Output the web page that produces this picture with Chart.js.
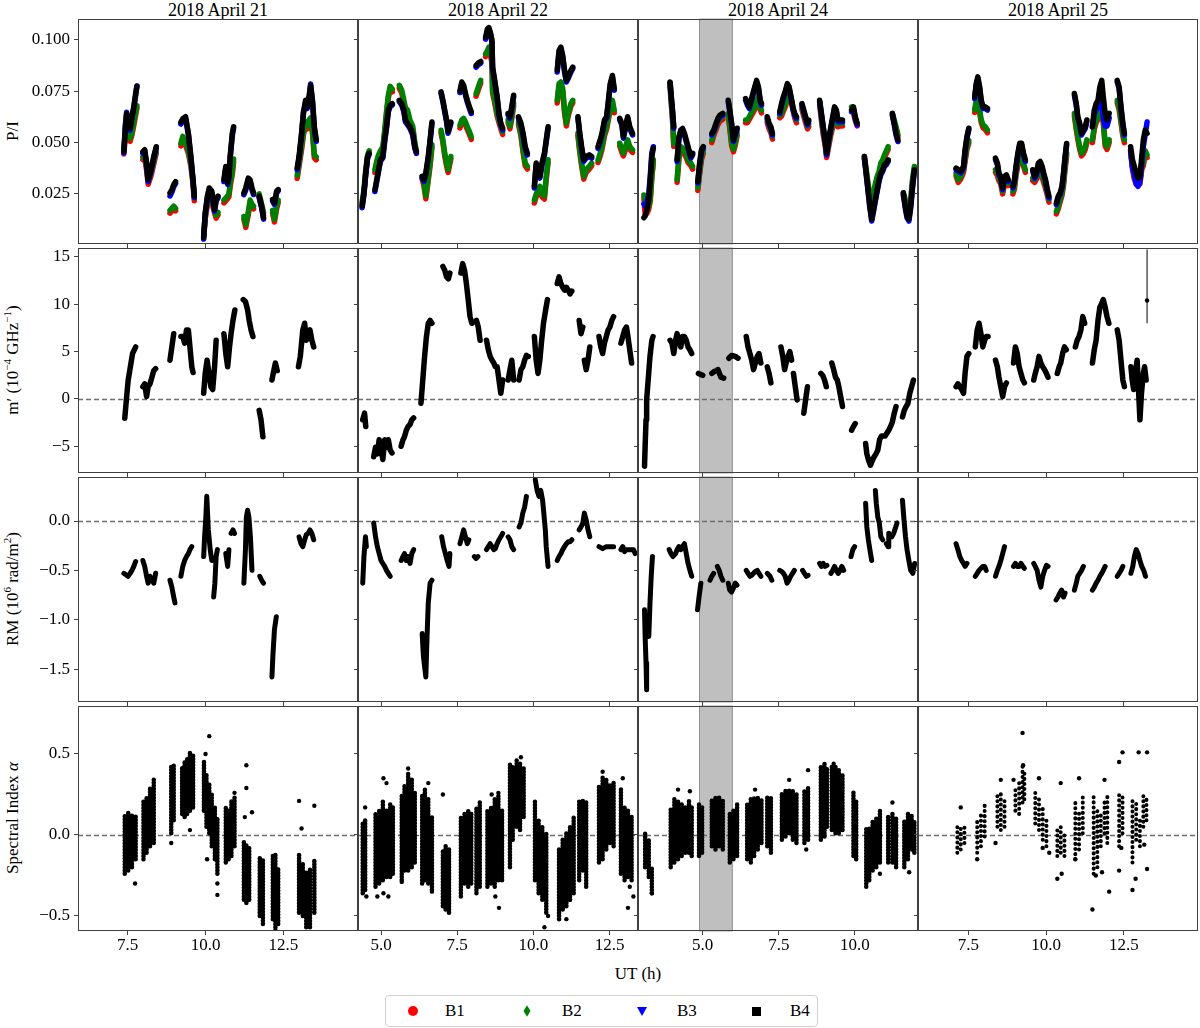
<!DOCTYPE html>
<html>
<head>
<meta charset="utf-8">
<script src="https://cdn.jsdelivr.net/npm/chart.js@4.4.1/dist/chart.umd.min.js"></script>
<style>
  body { margin: 0; background: #fff; }
  #fig { position: relative; width: 1200px; height: 1028px; font-family: 'Liberation Serif', serif; color: #000; overflow: hidden; }
  #fig canvas { position: absolute; }
  .txt { position: absolute; white-space: nowrap; font-size: 17px; line-height: 20px; }
  .title { font-size: 18px; transform: translateX(-50%); }
  .ylab { transform: translate(-50%, -50%) rotate(-90deg); }
  .ylab sup { font-size: 11px; line-height: 0; }
  #legend { position: absolute; left: 385px; top: 995px; width: 431px; height: 30px; border: 1px solid #d0d0d0; border-radius: 4px; background: #fff; }
  .mk { position: absolute; top: 15px; }
  .lt { position: absolute; top: 5px; font-size: 17px; line-height: 20px; }
</style>
</head>
<body>
<div id="fig">
  <div class="txt title" style="left:218px; top:0px;">2018 April 21</div>
  <div class="txt title" style="left:498px; top:0px;">2018 April 22</div>
  <div class="txt title" style="left:778px; top:0px;">2018 April 24</div>
  <div class="txt title" style="left:1058px; top:0px;">2018 April 25</div>

  <div class="txt ylab" style="left:13px; top:131px;">P/I</div>
  <div class="txt ylab" style="left:13px; top:360px;">m′ (10<sup>−4</sup> GHz<sup>−1</sup>)</div>
  <div class="txt ylab" style="left:13px; top:589px;">RM (10<sup>6</sup> rad/m<sup>2</sup>)</div>
  <div class="txt ylab" style="left:13px; top:818px;">Spectral Index <i>α</i></div>

  <div class="txt" style="left:638px; top:964px; transform:translateX(-50%);">UT (h)</div>

  <div id="legend">
    <div class="mk" style="left:22px; margin-top:-5px; width:10px; height:10px; border-radius:50%; background:#ff0000;"></div>
    <div class="lt" style="left:59px;">B1</div>
    <div class="mk" style="left:137px; margin-top:-4px; width:8px; height:8px; background:#008000; transform:scaleX(0.62) rotate(45deg);"></div>
    <div class="lt" style="left:176px;">B2</div>
    <div class="mk" style="left:251px; margin-top:-4px; width:0; height:0; border-left:5px solid transparent; border-right:5px solid transparent; border-top:9px solid #0000ff;"></div>
    <div class="lt" style="left:291px;">B3</div>
    <div class="mk" style="left:366px; margin-top:-4px; width:9px; height:9px; background:#000;"></div>
    <div class="lt" style="left:404px;">B4</div>
  </div>
</div>

<script>
// ---------- axes ----------
const colLeft = [78, 358, 638, 918];
const rowTop = [19, 248, 477, 706];
const panelW = 280, panelH = 225;

const xMin = [5.91, 4.245, 2.876, 5.874];
const xMax = [14.89, 13.43, 12.07, 14.89];
const xTicks = [[7.5, 10, 12.5], [5, 7.5, 10, 12.5], [5, 7.5, 10], [7.5, 10, 12.5]];

const yMin = [0.0006, -7.82, -1.834, -0.593];
const yMax = [0.1102, 15.95, 0.446, 0.796];
const yTicks = [[0.025, 0.05, 0.075, 0.1], [-5, 0, 5, 10, 15], [-1.5, -1, -0.5, 0], [-0.5, 0, 0.5]];
const yDigits = [3, 0, 1, 1];

// shaded interval on April 24
const gapBand = [4.88, 5.99];

// ---------- P/I (row 1), null = gap between scans ----------
const pi21_x = [7.38,7.43,7.47,7.52,7.58,7.64,7.70,7.76,7.80, null, 7.99,8.05,8.11,8.16,8.25,8.34,8.42, null, 8.86,8.92,8.98,9.04, null, 9.21,9.27,9.36,9.45,9.53,9.60,9.64, null, 9.94,9.99,10.06,10.12,10.20,10.29,10.34,10.40, null, 10.59,10.65,10.71,10.75,10.79,10.86,10.90, null, 11.23,11.29,11.37,11.43,11.49,11.54, null, 11.72,11.80,11.86, null, 12.15,12.21,12.28,12.33, null, 12.94,13.00,13.08,13.14,13.21,13.26,13.32,13.37,13.43,13.49,13.55];
const pi21_b4 = [0.0456,0.0577,0.0642,0.0594,0.0569,0.0626,0.0674,0.0739,0.0774, null, 0.0456,0.0465,0.0400,0.0319,0.0368,0.0432,0.0480, null, 0.0255,0.0270,0.0295,0.0310, null, 0.0600,0.0616,0.0626,0.0545,0.0432,0.0319,0.0239, null, 0.0037,0.0158,0.0239,0.0279,0.0263,0.0174,0.0223,0.0239, null, 0.0320,0.0384,0.0303,0.0335,0.0432,0.0545,0.0577, null, 0.0255,0.0279,0.0327,0.0319,0.0279,0.0255, null, 0.0239,0.0190,0.0134, null, 0.0223,0.0206,0.0263,0.0271, null, 0.0376,0.0432,0.0545,0.0642,0.0706,0.0674,0.0723,0.0779,0.0706,0.0577,0.0513];
const pi21_b3 = [0.0450,0.0585,0.0648,0.0586,0.0560,0.0618,0.0668,0.0732,0.0776, null, 0.0448,0.0458,0.0392,0.0310,0.0360,0.0425,0.0474, null, 0.0240,0.0258,0.0285,0.0300, null, 0.0590,0.0608,0.0618,0.0538,0.0425,0.0312,0.0232, null, 0.0030,0.0150,0.0231,0.0270,0.0255,0.0166,0.0215,0.0231, null, 0.0310,0.0376,0.0296,0.0327,0.0424,0.0536,0.0570, null, 0.0246,0.0268,0.0318,0.0310,0.0270,0.0247, null, 0.0232,0.0182,0.0127, null, 0.0216,0.0198,0.0255,0.0264, null, 0.0368,0.0425,0.0538,0.0650,0.0698,0.0666,0.0716,0.0785,0.0698,0.0570,0.0506];
const pi21_b2 = [0.0460,0.0550,0.0580,0.0530,0.0520,0.0550,0.0600,0.0650,0.0680, null, 0.0430,0.0440,0.0380,0.0310,0.0350,0.0410,0.0460, null, 0.0170,0.0180,0.0190,0.0180, null, 0.0497,0.0530,0.0500,0.0460,0.0400,0.0310,0.0230, null, 0.0050,0.0140,0.0210,0.0250,0.0223,0.0170,0.0145,0.0160, null, 0.0220,0.0230,0.0240,0.0250,0.0300,0.0360,0.0420, null, 0.0140,0.0100,0.0160,0.0220,0.0200,0.0190, null, 0.0250,0.0200,0.0160, null, 0.0170,0.0126,0.0190,0.0220, null, 0.0340,0.0400,0.0480,0.0550,0.0600,0.0580,0.0610,0.0620,0.0560,0.0440,0.0430];
const pi21_b1 = [0.0445,0.0536,0.0566,0.0517,0.0506,0.0537,0.0585,0.0636,0.0667, null, 0.0417,0.0426,0.0366,0.0297,0.0337,0.0396,0.0447, null, 0.0156,0.0167,0.0177,0.0168, null, 0.0484,0.0516,0.0487,0.0447,0.0386,0.0297,0.0217, null, 0.0040,0.0127,0.0197,0.0237,0.0210,0.0157,0.0132,0.0148, null, 0.0206,0.0217,0.0227,0.0236,0.0287,0.0347,0.0406, null, 0.0127,0.0087,0.0147,0.0207,0.0187,0.0177, null, 0.0237,0.0187,0.0147, null, 0.0157,0.0113,0.0177,0.0207, null, 0.0326,0.0386,0.0466,0.0537,0.0586,0.0566,0.0596,0.0606,0.0546,0.0426,0.0416];

const pi22_x = [4.38,4.44,4.50,4.56,4.61, null, 4.80,4.86,4.92,4.98,5.06,5.12,5.18,5.24,5.30,5.37, null, 5.60,5.68,5.75,5.80,5.87,5.95,6.04,6.11,6.16, null, 6.35,6.41,6.47,6.55,6.61,6.67, null, 6.97,7.03,7.09,7.15,7.20,7.29, null, 7.59,7.65,7.71,7.77,7.83,7.90,7.96, null, 8.12,8.19,8.27, null, 8.43,8.49,8.54,8.60,8.64,8.66,8.73,8.81,8.87,8.93,8.99, null, 9.17,9.23,9.29,9.35, null, 9.51,9.59,9.66,9.73,9.80, null, 10.03,10.09,10.16,10.21,10.28,10.36,10.42,10.48, null, 10.78,10.84,10.90,10.96,11.02,11.08,11.14,11.23,11.29, null, 11.46,11.52,11.58,11.65,11.73,11.83,11.91, null, 12.12,12.19,12.25,12.33,12.40,12.46,12.52,12.59,12.65, null, 12.83,12.90,12.95,13.02,13.09,13.16,13.25];
const pi22_b4 = [0.0190,0.0255,0.0352,0.0432,0.0448, null, 0.0270,0.0319,0.0368,0.0416,0.0432,0.0513,0.0577,0.0658,0.0682,0.0690, null, 0.0706,0.0690,0.0658,0.0610,0.0594,0.0577,0.0545,0.0480,0.0456, null, 0.0335,0.0319,0.0352,0.0432,0.0513,0.0600, null, 0.0747,0.0706,0.0658,0.0610,0.0553,0.0600, null, 0.0752,0.0795,0.0779,0.0739,0.0706,0.0674,0.0650, null, 0.0876,0.0887,0.0895, null, 0.1013,0.1053,0.1060,0.1029,0.0997,0.0868,0.0803,0.0723,0.0642,0.0594,0.0570, null, 0.0642,0.0626,0.0674,0.0731, null, 0.0626,0.0594,0.0545,0.0480,0.0448, null, 0.0287,0.0400,0.0368,0.0335,0.0400,0.0448,0.0513,0.0577, null, 0.0852,0.0948,0.0965,0.0924,0.0852,0.0803,0.0820,0.0852,0.0868, null, 0.0626,0.0545,0.0480,0.0416,0.0432,0.0440,0.0432, null, 0.0480,0.0513,0.0545,0.0610,0.0626,0.0706,0.0787,0.0827,0.0763, null, 0.0618,0.0594,0.0529,0.0577,0.0626,0.0577,0.0545];
const pi22_b3 = [0.0183,0.0247,0.0344,0.0425,0.0441, null, 0.0262,0.0311,0.0360,0.0409,0.0425,0.0505,0.0570,0.0650,0.0675,0.0683, null, 0.0699,0.0682,0.0650,0.0602,0.0587,0.0569,0.0537,0.0472,0.0449, null, 0.0327,0.0311,0.0344,0.0425,0.0505,0.0592, null, 0.0739,0.0698,0.0650,0.0602,0.0545,0.0592, null, 0.0744,0.0787,0.0771,0.0731,0.0698,0.0666,0.0642, null, 0.0867,0.0879,0.0887, null, 0.1004,0.1045,0.1052,0.1021,0.0989,0.0860,0.0795,0.0715,0.0634,0.0586,0.0562, null, 0.0634,0.0618,0.0666,0.0723, null, 0.0618,0.0586,0.0537,0.0472,0.0440, null, 0.0279,0.0392,0.0360,0.0327,0.0392,0.0440,0.0505,0.0569, null, 0.0844,0.0940,0.0957,0.0916,0.0844,0.0795,0.0812,0.0844,0.0860, null, 0.0618,0.0537,0.0472,0.0408,0.0424,0.0432,0.0424, null, 0.0472,0.0505,0.0537,0.0602,0.0618,0.0698,0.0779,0.0819,0.0755, null, 0.0610,0.0586,0.0521,0.0569,0.0618,0.0569,0.0537];
const pi22_b2 = [0.0210,0.0270,0.0370,0.0440,0.0460, null, 0.0368,0.0410,0.0440,0.0460,0.0480,0.0560,0.0650,0.0730,0.0774,0.0760, null, 0.0779,0.0755,0.0706,0.0670,0.0658,0.0610,0.0580,0.0500,0.0460, null, 0.0335,0.0300,0.0240,0.0330,0.0400,0.0490, null, 0.0560,0.0513,0.0448,0.0400,0.0368,0.0432, null, 0.0585,0.0610,0.0618,0.0600,0.0577,0.0553,0.0529, null, 0.0739,0.0770,0.0803, null, 0.0932,0.0948,0.0965,0.0932,0.0900,0.0755,0.0706,0.0642,0.0610,0.0580,0.0553, null, 0.0610,0.0580,0.0630,0.0690, null, 0.0600,0.0545,0.0465,0.0400,0.0384, null, 0.0220,0.0250,0.0270,0.0287,0.0250,0.0239,0.0335,0.0416, null, 0.0706,0.0787,0.0795,0.0763,0.0658,0.0594,0.0642,0.0690,0.0706, null, 0.0545,0.0465,0.0400,0.0335,0.0368,0.0384,0.0400, null, 0.0416,0.0448,0.0480,0.0545,0.0577,0.0626,0.0674,0.0706,0.0658, null, 0.0497,0.0465,0.0448,0.0480,0.0513,0.0480,0.0465];
const pi22_b1 = [0.0196,0.0256,0.0357,0.0427,0.0447, null, 0.0354,0.0396,0.0427,0.0447,0.0466,0.0547,0.0637,0.0717,0.0760,0.0747, null, 0.0765,0.0741,0.0693,0.0657,0.0645,0.0597,0.0567,0.0487,0.0447, null, 0.0322,0.0287,0.0226,0.0317,0.0387,0.0477, null, 0.0547,0.0500,0.0435,0.0387,0.0355,0.0419, null, 0.0572,0.0597,0.0605,0.0587,0.0564,0.0540,0.0516, null, 0.0726,0.0757,0.0790, null, 0.0919,0.0935,0.0952,0.0919,0.0887,0.0742,0.0693,0.0629,0.0597,0.0567,0.0540, null, 0.0597,0.0567,0.0617,0.0677, null, 0.0587,0.0532,0.0452,0.0387,0.0371, null, 0.0206,0.0236,0.0256,0.0273,0.0236,0.0225,0.0321,0.0403, null, 0.0693,0.0774,0.0782,0.0750,0.0645,0.0581,0.0629,0.0677,0.0693, null, 0.0532,0.0452,0.0387,0.0322,0.0355,0.0371,0.0387, null, 0.0403,0.0435,0.0467,0.0532,0.0564,0.0613,0.0661,0.0693,0.0645, null, 0.0484,0.0452,0.0435,0.0467,0.0500,0.0467,0.0452];

const pi24_x = [3.07,3.11,3.17,3.23,3.28,3.33,3.38, null, 3.93,3.96,4.01,4.05, null, 4.16,4.22,4.28,4.34,4.40,4.46,4.52,4.61,4.67, null, 4.84,4.90,4.96,5.02, null, 5.30,5.36,5.44,5.50,5.57,5.66, null, 5.84,5.89,5.95,6.01,6.07,6.13, null, 6.41,6.47,6.53,6.59,6.65,6.71,6.77,6.83,6.89,6.93, null, 7.12,7.18,7.24,7.29, null, 7.53,7.59,7.65,7.72,7.78,7.84,7.90,7.96,8.02,8.08, null, 8.26,8.32,8.38,8.44,8.48, null, 8.84,8.90,8.96,9.02,9.07,9.15,9.21,9.27,9.33,9.39,9.44,9.51,9.59, null, 9.89,9.95,10.01,10.07, null, 10.31,10.37,10.43,10.49,10.55,10.61,10.67,10.73,10.79,10.85,10.91,10.97,11.03,11.09, null, 11.23,11.29,11.35,11.41, null, 11.59,11.65,11.71,11.77,11.83,11.89,11.95];
const pi24_b4 = [0.0134,0.0142,0.0174,0.0223,0.0320,0.0432,0.0473, null, 0.0795,0.0739,0.0658,0.0577, null, 0.0416,0.0529,0.0561,0.0569,0.0545,0.0513,0.0480,0.0432,0.0448, null, 0.0311,0.0400,0.0465,0.0480, null, 0.0545,0.0561,0.0594,0.0618,0.0634,0.0642, null, 0.0706,0.0658,0.0594,0.0513,0.0545,0.0570, null, 0.0714,0.0690,0.0674,0.0706,0.0739,0.0771,0.0803,0.0771,0.0706,0.0690, null, 0.0626,0.0594,0.0577,0.0545, null, 0.0650,0.0690,0.0723,0.0755,0.0787,0.0771,0.0723,0.0674,0.0642,0.0626, null, 0.0690,0.0658,0.0626,0.0594,0.0610, null, 0.0706,0.0642,0.0577,0.0513,0.0448,0.0529,0.0577,0.0626,0.0674,0.0658,0.0610,0.0610,0.0610, null, 0.0658,0.0674,0.0626,0.0594, null, 0.0432,0.0352,0.0271,0.0190,0.0126,0.0174,0.0223,0.0271,0.0319,0.0352,0.0368,0.0392,0.0400,0.0416, null, 0.0642,0.0594,0.0545,0.0513, null, 0.0255,0.0190,0.0142,0.0126,0.0190,0.0287,0.0368];
const pi24_b3 = [0.0200,0.0190,0.0210,0.0250,0.0340,0.0450,0.0480, null, 0.0790,0.0732,0.0650,0.0570, null, 0.0408,0.0520,0.0553,0.0561,0.0537,0.0505,0.0472,0.0424,0.0440, null, 0.0303,0.0392,0.0457,0.0472, null, 0.0537,0.0553,0.0586,0.0610,0.0626,0.0634, null, 0.0698,0.0650,0.0586,0.0505,0.0537,0.0562, null, 0.0706,0.0682,0.0666,0.0698,0.0731,0.0763,0.0795,0.0763,0.0698,0.0682, null, 0.0618,0.0586,0.0569,0.0537, null, 0.0642,0.0682,0.0715,0.0747,0.0779,0.0763,0.0715,0.0666,0.0634,0.0618, null, 0.0682,0.0650,0.0618,0.0586,0.0602, null, 0.0698,0.0634,0.0569,0.0505,0.0440,0.0521,0.0569,0.0618,0.0666,0.0650,0.0602,0.0602,0.0602, null, 0.0650,0.0666,0.0618,0.0586, null, 0.0424,0.0344,0.0263,0.0182,0.0118,0.0166,0.0215,0.0263,0.0311,0.0344,0.0360,0.0384,0.0392,0.0408, null, 0.0634,0.0586,0.0537,0.0505, null, 0.0247,0.0182,0.0134,0.0118,0.0182,0.0279,0.0360];
const pi24_b2 = [0.0245,0.0220,0.0170,0.0190,0.0230,0.0340,0.0416, null, 0.0787,0.0720,0.0620,0.0495, null, 0.0320,0.0432,0.0480,0.0473,0.0460,0.0440,0.0416,0.0400,0.0384, null, 0.0280,0.0360,0.0430,0.0460, null, 0.0513,0.0545,0.0577,0.0600,0.0618,0.0626, null, 0.0642,0.0580,0.0500,0.0468,0.0500,0.0545, null, 0.0610,0.0610,0.0626,0.0642,0.0658,0.0674,0.0706,0.0723,0.0674,0.0658, null, 0.0610,0.0580,0.0560,0.0530, null, 0.0634,0.0642,0.0666,0.0690,0.0723,0.0739,0.0723,0.0674,0.0634,0.0610, null, 0.0674,0.0640,0.0610,0.0580,0.0590, null, 0.0700,0.0620,0.0550,0.0500,0.0440,0.0505,0.0550,0.0590,0.0645,0.0610,0.0590,0.0594,0.0594, null, 0.0674,0.0658,0.0620,0.0594, null, 0.0432,0.0370,0.0300,0.0240,0.0220,0.0255,0.0300,0.0335,0.0360,0.0400,0.0416,0.0440,0.0460,0.0480, null, 0.0642,0.0610,0.0577,0.0540, null, 0.0255,0.0223,0.0174,0.0158,0.0223,0.0320,0.0384];
const pi24_b1 = [0.0232,0.0150,0.0155,0.0177,0.0217,0.0327,0.0403, null, 0.0774,0.0707,0.0607,0.0482, null, 0.0307,0.0419,0.0467,0.0460,0.0447,0.0427,0.0403,0.0387,0.0371, null, 0.0267,0.0347,0.0417,0.0447, null, 0.0500,0.0532,0.0564,0.0587,0.0605,0.0613, null, 0.0629,0.0567,0.0487,0.0455,0.0487,0.0532, null, 0.0597,0.0597,0.0613,0.0629,0.0645,0.0661,0.0693,0.0710,0.0661,0.0645, null, 0.0597,0.0567,0.0547,0.0517, null, 0.0621,0.0629,0.0653,0.0677,0.0710,0.0726,0.0710,0.0661,0.0621,0.0597, null, 0.0661,0.0627,0.0597,0.0567,0.0577, null, 0.0687,0.0607,0.0537,0.0487,0.0427,0.0492,0.0537,0.0577,0.0632,0.0597,0.0577,0.0581,0.0581, null, 0.0661,0.0645,0.0607,0.0581, null, 0.0419,0.0357,0.0287,0.0227,0.0207,0.0242,0.0287,0.0322,0.0347,0.0387,0.0403,0.0427,0.0447,0.0467, null, 0.0629,0.0597,0.0564,0.0527, null, 0.0242,0.0210,0.0161,0.0145,0.0210,0.0307,0.0371];

const pi25_x = [7.10,7.17,7.25,7.34,7.39,7.45,7.51, null, 7.70,7.75,7.80,7.86,7.91,7.97,8.04,8.11, null, 8.37,8.43,8.48,8.54,8.60,8.66,8.72,8.78, null, 8.93,8.98,9.03,9.09,9.15,9.21,9.27,9.33, null, 9.57,9.63,9.69,9.75,9.81,9.87,9.92,9.98,10.04,10.09, null, 10.33,10.39,10.45,10.51,10.56,10.61,10.66, null, 10.91,10.97,11.02,11.08,11.14,11.20,11.26,11.31, null, 11.49,11.55,11.61,11.67,11.73,11.79,11.84,11.90,11.96,12.03, null, 12.29,12.35,12.41,12.47,12.52, null, 12.72,12.78,12.84,12.90,12.96,13.02,13.08,13.13,13.19,13.25];
const pi25_b4 = [0.0376,0.0368,0.0360,0.0384,0.0465,0.0529,0.0570, null, 0.0723,0.0787,0.0820,0.0771,0.0706,0.0674,0.0674,0.0666, null, 0.0424,0.0400,0.0352,0.0335,0.0279,0.0335,0.0343,0.0319, null, 0.0287,0.0319,0.0384,0.0448,0.0497,0.0497,0.0448,0.0416, null, 0.0368,0.0335,0.0352,0.0400,0.0408,0.0384,0.0352,0.0319,0.0271,0.0239, null, 0.0206,0.0239,0.0255,0.0287,0.0352,0.0432,0.0496, null, 0.0739,0.0690,0.0626,0.0594,0.0545,0.0561,0.0577,0.0610, null, 0.0577,0.0658,0.0690,0.0706,0.0771,0.0803,0.0723,0.0642,0.0610,0.0642, null, 0.0803,0.0771,0.0674,0.0594,0.0545, null, 0.0480,0.0416,0.0384,0.0352,0.0327,0.0335,0.0432,0.0513,0.0561,0.0545];
const pi25_b3 = [0.0368,0.0360,0.0352,0.0376,0.0457,0.0521,0.0562, null, 0.0715,0.0779,0.0812,0.0763,0.0698,0.0666,0.0666,0.0658, null, 0.0416,0.0392,0.0344,0.0327,0.0271,0.0327,0.0335,0.0311, null, 0.0279,0.0311,0.0376,0.0440,0.0489,0.0489,0.0440,0.0408, null, 0.0360,0.0327,0.0344,0.0392,0.0400,0.0376,0.0344,0.0311,0.0263,0.0231, null, 0.0198,0.0231,0.0247,0.0279,0.0344,0.0424,0.0488, null, 0.0731,0.0682,0.0618,0.0586,0.0537,0.0553,0.0569,0.0602, null, 0.0577,0.0640,0.0660,0.0670,0.0700,0.0720,0.0620,0.0580,0.0580,0.0620, null, 0.0795,0.0763,0.0666,0.0586,0.0537, null, 0.0460,0.0380,0.0340,0.0300,0.0287,0.0310,0.0400,0.0480,0.0540,0.0600];
const pi25_b2 = [0.0350,0.0319,0.0335,0.0368,0.0420,0.0480,0.0510, null, 0.0660,0.0706,0.0706,0.0658,0.0610,0.0585,0.0577,0.0561, null, 0.0368,0.0352,0.0327,0.0310,0.0263,0.0310,0.0319,0.0303, null, 0.0263,0.0287,0.0352,0.0400,0.0460,0.0432,0.0400,0.0368, null, 0.0327,0.0319,0.0335,0.0352,0.0368,0.0343,0.0319,0.0290,0.0255,0.0223, null, 0.0166,0.0190,0.0223,0.0255,0.0303,0.0384,0.0448, null, 0.0642,0.0577,0.0529,0.0480,0.0448,0.0460,0.0480,0.0513, null, 0.0513,0.0577,0.0610,0.0626,0.0642,0.0658,0.0610,0.0497,0.0480,0.0513, null, 0.0706,0.0674,0.0610,0.0545,0.0513, null, 0.0465,0.0384,0.0335,0.0310,0.0303,0.0311,0.0384,0.0400,0.0460,0.0440];
const pi25_b1 = [0.0337,0.0306,0.0322,0.0355,0.0407,0.0467,0.0497, null, 0.0647,0.0693,0.0693,0.0645,0.0597,0.0572,0.0564,0.0548, null, 0.0355,0.0339,0.0314,0.0297,0.0250,0.0297,0.0306,0.0290, null, 0.0250,0.0274,0.0339,0.0387,0.0447,0.0419,0.0387,0.0355, null, 0.0314,0.0306,0.0322,0.0339,0.0355,0.0330,0.0306,0.0277,0.0242,0.0210, null, 0.0153,0.0177,0.0210,0.0242,0.0290,0.0371,0.0435, null, 0.0629,0.0564,0.0516,0.0467,0.0435,0.0447,0.0467,0.0500, null, 0.0500,0.0564,0.0597,0.0613,0.0629,0.0645,0.0597,0.0484,0.0467,0.0500, null, 0.0693,0.0661,0.0597,0.0532,0.0500, null, 0.0452,0.0371,0.0322,0.0297,0.0290,0.0298,0.0371,0.0387,0.0447,0.0427];

// ---------- m' (row 2) ----------
const mp21_x = [7.41,7.47,7.52,7.59,7.66,7.76, null, 7.99,8.05,8.11,8.16,8.22,8.28,8.34,8.40, null, 8.86,8.92,8.98, null, 9.21,9.27,9.33,9.39,9.45,9.50,9.56,9.60, null, 9.94,9.99,10.05,10.11,10.17,10.23,10.29,10.34, null, 10.59,10.65,10.71,10.77,10.82,10.88,10.94, null, 11.21,11.28,11.35,11.40,11.46,11.52, null, 11.72,11.78,11.84, null, 12.13,12.19,12.24,12.30, null, 12.98,13.04,13.12,13.18,13.23,13.29,13.35,13.41,13.47];
const mp21_y = [-2.04,0.25,2.0,3.4,4.8,5.5, null, 1.3,1.6,0.25,1.3,1.6,2.3,3.0,3.2, null, 4.1,5.5,6.9, null, 6.6,6.6,5.9,7.3,7.3,5.5,3.4,2.8, null, 0.6,2.7,4.1,2.7,1.3,1.0,3.4,6.2, null, 6.9,4.8,3.4,5.5,6.9,8.3,9.4, null, 10.5,10.3,9.4,8.3,7.3,6.6, null, -1.2,-2.2,-4.0, null, 2.0,3.0,3.8,3.0, null, 3.4,4.5,7.3,8.0,6.2,6.6,7.3,6.2,5.5];

const mp22_x = [4.40,4.46,4.50, null, 4.76,4.82,4.88,4.94,5.00,5.06,5.12,5.18,5.24,5.30,5.36, null, 5.66,5.72,5.77,5.83,5.89,5.95,6.01,6.07, null, 6.31,6.37,6.43,6.49,6.55,6.61,6.67, null, 7.03,7.09,7.15,7.21,7.26, null, 7.62,7.68,7.74,7.80,7.86,7.92,7.98, null, 8.13,8.19,8.25, null, 8.46,8.52,8.58,8.64,8.70,8.75,8.81,8.87,8.93,8.99, null, 9.17,9.23,9.29,9.35, null, 9.53,9.59,9.65,9.71,9.77,9.83, null, 10.03,10.09,10.15,10.21,10.27,10.33,10.40,10.46, null, 10.78,10.84,10.90,10.96,11.02,11.08,11.14,11.20,11.26, null, 11.50,11.56,11.62, null, 11.67,11.73,11.79,11.85, null, 12.15,12.21,12.27,12.33,12.39,12.45,12.51,12.57,12.63, null, 12.87,12.93,12.99,13.05,13.10,13.16,13.22];
const mp22_y = [-2.2,-1.5,-2.9, null, -6.1,-5.1,-5.8,-4.3,-5.4,-6.4,-4.3,-5.1,-4.3,-5.4,-5.7, null, -5.0,-4.3,-4.0,-3.3,-2.9,-2.7,-2.2,-2.0, null, -0.46,2.0,4.5,6.6,8.0,8.3,8.0, null, 14.0,13.6,12.9,12.7,13.3, null, 13.3,14.3,13.6,12.2,10.5,8.7,8.0, null, 8.3,7.6,6.2, null, 6.2,5.2,4.5,4.1,3.8,3.4,3.4,2.0,0.6,2.0, null, 2.0,3.1,4.1,2.0, null, 2.0,3.1,3.4,4.1,4.6,4.5, null, 6.6,4.1,2.7,4.1,6.2,8.0,9.4,10.5, null, 12.2,12.9,12.2,11.8,11.5,11.8,11.5,11.1,11.4, null, 8.3,6.9,7.6, null, 4.1,3.1,4.1,5.5, null, 6.6,5.5,4.8,5.9,6.6,7.3,7.6,8.3,8.7, null, 5.9,6.6,7.3,7.6,6.6,5.2,3.8];

const mp24_x = [3.09,3.11,3.14,3.16,3.21,3.27,3.33,3.37, null, 3.93,3.99,4.05,4.11,4.16,4.22,4.28,4.34,4.40,4.46,4.52,4.58,4.64, null, 4.86,5.00, null, 5.30,5.38, null, 5.50,5.60,5.69, null, 5.86,5.95,6.07,6.16, null, 6.43,6.49,6.55,6.61,6.67,6.73,6.79,6.85,6.91, null, 7.12,7.18,7.24, null, 7.57,7.63,7.69,7.74,7.80,7.86,7.92, null, 7.98,8.04,8.10, null, 8.32,8.38,8.44, null, 8.88,8.94,9.00,9.06, null, 9.24,9.30,9.36,9.42,9.47,9.53,9.59, null, 9.89,9.95,10.01, null, 10.35,10.39,10.45,10.51,10.57,10.63,10.69,10.75,10.81,10.87,10.93,10.99,11.05,11.11,11.17,11.23,11.29,11.35, null, 11.56,11.62,11.68,11.74,11.80,11.86,11.92];
const mp24_y = [-7.1,-5.0,-2.2,-0.1,2.0,4.5,6.2,6.6, null, 6.2,5.9,4.8,6.2,6.9,6.2,5.5,6.6,6.6,6.2,5.5,5.2,4.8, null, 2.7,2.5, null, 2.7,2.9, null, 3.1,2.3,2.2, null, 4.3,4.6,4.5,4.3, null, 6.6,5.5,4.8,4.1,3.1,3.8,4.5,4.8,3.8, null, 3.4,2.7,1.7, null, 5.5,4.5,3.1,3.8,4.5,5.0,4.1, null, 2.7,1.3,-0.1, null, -1.5,-0.1,1.3, null, 2.7,2.5,2.0,1.3, null, 3.8,3.1,2.3,2.0,1.3,0.25,-0.8, null, -3.3,-2.9,-2.6, null, -4.7,-5.8,-6.5,-7.0,-6.5,-6.1,-5.8,-5.4,-4.3,-3.9,-3.9,-3.9,-3.6,-3.3,-2.9,-2.4,-1.5,-0.8, null, -1.9,-1.2,-0.8,-0.46,0.6,1.3,2.0];

const mp25_x = [7.10,7.16,7.22,7.28,7.34,7.39,7.45,7.51, null, 7.72,7.78,7.84,7.90,7.96,8.02,8.07,8.13, null, 8.37,8.43,8.48,8.54,8.60,8.66,8.72, null, 8.95,9.01,9.07,9.13,9.19,9.25,9.30, null, 9.60,9.65,9.71,9.77,9.83,9.89,9.95,10.01,10.06, null, 10.36,10.42,10.47,10.53,10.59,10.65, null, 10.94,11.00,11.06,11.12,11.18,11.24, null, 11.49,11.55,11.61,11.67,11.73,11.79,11.84,11.90,11.96,12.02, null, 12.29,12.35,12.41,12.47,12.52, null, 12.73,12.77,12.82,12.87,12.93,12.99,13.02,13.07,13.13,13.17,13.22];
const mp25_y = [1.3,1.6,1.3,1.0,0.6,2.7,4.5,4.8, null, 5.5,7.3,8.0,6.9,5.5,6.2,6.6,6.6, null, 4.1,3.4,2.3,1.3,0.25,1.3,1.7, null, 3.8,5.5,4.8,3.4,2.7,2.0,1.7, null, 2.0,2.7,3.4,4.5,3.8,3.4,3.1,2.7,2.3, null, 2.7,3.4,3.8,4.8,5.5,5.2, null, 5.5,6.2,6.6,7.3,8.7,8.0, null, 3.8,5.2,6.2,8.3,9.7,10.1,10.5,9.7,8.7,8.0, null, 7.3,6.2,4.1,2.0,1.3, null, 3.4,2.0,1.0,2.7,4.1,-0.1,-2.2,0.6,2.7,3.4,2.0];
// last April 25 point with its long error bar
const mp25_ox = [13.25];
const mp25_oy = [10.4];
const mp25_olo = [8.0];
const mp25_ohi = [15.8];

// ---------- RM (row 3) ----------
const rm21_x = [7.38,7.47,7.52,7.58,7.64,7.70,7.76, null, 7.99,8.05,8.11,8.16,8.22,8.28,8.34,8.40, null, 8.86,8.92,8.98,9.02, null, 9.21,9.27,9.33,9.39,9.45,9.50,9.56, null, 9.94,9.97,10.01,10.04,10.09,10.15,10.20, null, 10.26,10.30,10.34,10.38, null, 10.65,10.71,10.75, null, 10.82,10.88,10.93, null, 11.23,11.28,11.31,11.35,11.39,11.44,11.49, null, 11.74,11.80,11.86, null, 12.13,12.16,12.21,12.27, null, 13.00,13.06,13.12,13.18,13.23,13.29,13.35,13.41,13.47];
const rm21_y = [-0.53,-0.55,-0.56,-0.53,-0.50,-0.46,-0.41, null, -0.40,-0.46,-0.56,-0.63,-0.56,-0.60,-0.63,-0.53, null, -0.60,-0.67,-0.77,-0.83, null, -0.56,-0.46,-0.40,-0.36,-0.33,-0.29,-0.26, null, -0.36,-0.16,0.04,0.25,-0.09,-0.29,-0.40, null, -0.77,-0.63,-0.36,-0.29, null, -0.33,-0.46,-0.29, null, -0.125,-0.09,-0.125, null, -0.63,-0.29,0.04,0.11,0.04,-0.16,-0.50, null, -0.56,-0.60,-0.63, null, -1.58,-1.37,-1.10,-0.97, null, -0.16,-0.23,-0.26,-0.19,-0.14,-0.125,-0.09,-0.125,-0.19];

const rm22_x = [4.40,4.44,4.49,4.52, null, 4.76,4.82,4.88,4.94,5.00,5.06,5.12,5.18,5.24,5.30, null, 5.66,5.72,5.77,5.83,5.89,5.95,6.01,6.07, null, 6.35,6.39,6.47,6.51,6.55,6.61,6.67, null, 6.99,7.05,7.11,7.17,7.23,7.26, null, 7.59,7.65,7.71,7.77,7.83,7.88, null, 8.06,8.12,8.18, null, 8.46,8.52,8.58,8.64,8.70,8.75,8.81,8.87,8.93,8.99, null, 9.17,9.23,9.29,9.35, null, 9.53,9.59,9.65,9.71,9.77, null, 10.06,10.12,10.18,10.24,10.30,10.34,10.39,10.42,10.48, null, 10.78,10.84,10.90,10.96,11.02,11.08,11.14,11.20,11.26, null, 11.50,11.56,11.62,11.67,11.73,11.79,11.85, null, 12.15,12.27,12.39,12.51,12.63, null, 12.87,12.93,12.99,13.05,13.16,13.28,13.34];
const rm22_y = [-0.63,-0.36,-0.16,-0.26, null, -0.02,-0.16,-0.26,-0.33,-0.40,-0.43,-0.46,-0.50,-0.53,-0.56, null, -0.40,-0.36,-0.33,-0.40,-0.36,-0.43,-0.33,-0.29, null, -1.14,-1.37,-1.58,-1.17,-0.83,-0.63,-0.60, null, -0.16,-0.26,-0.33,-0.40,-0.46,-0.33, null, -0.23,-0.16,-0.09,-0.16,-0.23,-0.19, null, -0.36,-0.38,-0.36, null, -0.29,-0.26,-0.23,-0.26,-0.29,-0.28,-0.23,-0.19,-0.16,-0.125, null, -0.16,-0.19,-0.26,-0.29, null, -0.06,-0.02,0.08,0.14,0.25, null, 0.42,0.31,0.25,0.31,0.21,0.08,-0.09,-0.26,-0.46, null, -0.40,-0.36,-0.33,-0.29,-0.26,-0.23,-0.21,-0.21,-0.19, null, -0.09,-0.06,-0.02,0.08,0.01,-0.09,-0.16, null, -0.26,-0.28,-0.26,-0.26,-0.26, null, -0.29,-0.26,-0.31,-0.29,-0.29,-0.29,-0.33];

const rm24_x = [3.09,3.11,3.14,3.16, null, 3.23,3.27,3.31,3.35, null, 3.90,3.96,4.02,4.11,4.16,4.22,4.28,4.34,4.40,4.46,4.52,4.58,4.64, null, 4.83,4.88,4.94, null, 5.24,5.30,5.36, null, 5.48,5.54,5.60,5.66, null, 5.84,5.89,5.95,6.01,6.07,6.13, null, 6.43,6.49,6.55,6.61,6.67,6.73,6.79,6.85,6.91, null, 7.12,7.21,7.27, null, 7.53,7.59,7.65,7.71,7.77,7.83,7.89,7.95,8.01, null, 8.28,8.34,8.40,8.46, null, 8.84,8.90,8.96,9.02,9.08, null, 9.21,9.27,9.33,9.39,9.45,9.51,9.57,9.63, null, 9.87,9.93,9.99, null, 10.35,10.39,10.44,10.49,10.55, null, 10.67,10.70,10.75,10.80,10.85,10.91, null, 11.03,11.09,11.11, null, 11.21,11.27,11.33,11.38, null, 11.56,11.61,11.66,11.71,11.77,11.83,11.90,11.96];
const rm24_y = [-0.90,-1.17,-1.44,-1.71, null, -1.17,-0.83,-0.56,-0.36, null, -0.29,-0.33,-0.36,-0.33,-0.29,-0.26,-0.29,-0.26,-0.23,-0.33,-0.43,-0.50,-0.56, null, -0.90,-0.77,-0.63, null, -0.60,-0.56,-0.53, null, -0.46,-0.50,-0.56,-0.60, null, -0.63,-0.70,-0.72,-0.68,-0.63,-0.65, null, -0.50,-0.53,-0.56,-0.55,-0.53,-0.51,-0.50,-0.53,-0.56, null, -0.53,-0.56,-0.60, null, -0.50,-0.51,-0.53,-0.56,-0.63,-0.60,-0.56,-0.53,-0.50, null, -0.50,-0.53,-0.56,-0.55, null, -0.43,-0.46,-0.43,-0.46,-0.45, null, -0.53,-0.50,-0.46,-0.50,-0.53,-0.50,-0.46,-0.50, null, -0.36,-0.29,-0.26, null, 0.18,-0.06,-0.19,-0.29,-0.40, null, 0.31,0.18,0.04,-0.02,-0.16,-0.19, null, -0.23,-0.26,-0.125, null, -0.16,-0.125,-0.07,-0.02, null, 0.21,0.01,-0.16,-0.29,-0.40,-0.50,-0.53,-0.43];

const rm25_x = [7.10,7.16,7.22,7.28,7.34,7.39,7.45, null, 7.72,7.78,7.84,7.90,7.96,8.02,8.07, null, 8.37,8.43,8.48,8.54,8.60,8.66, null, 8.95,9.01,9.07,9.13,9.19,9.25,9.30, null, 9.60,9.65,9.71,9.77,9.83,9.89,9.95,10.01,10.06, null, 10.32,10.38,10.44,10.50,10.56,10.61, null, 10.91,10.97,11.02,11.08,11.14,11.20, null, 11.49,11.55,11.61,11.67,11.73,11.79,11.84,11.90, null, 12.29,12.35,12.41,12.47, null, 12.73,12.79,12.84,12.90,12.96,13.02,13.08,13.14,13.20];
const rm25_y = [-0.23,-0.29,-0.36,-0.40,-0.43,-0.46,-0.43, null, -0.56,-0.53,-0.50,-0.48,-0.46,-0.46,-0.50, null, -0.56,-0.50,-0.46,-0.40,-0.33,-0.26, null, -0.46,-0.43,-0.46,-0.46,-0.43,-0.46,-0.48, null, -0.43,-0.46,-0.50,-0.60,-0.67,-0.56,-0.50,-0.45,-0.46, null, -0.80,-0.77,-0.73,-0.70,-0.77,-0.73, null, -0.70,-0.63,-0.56,-0.53,-0.50,-0.46, null, -0.70,-0.67,-0.63,-0.60,-0.56,-0.53,-0.50,-0.46, null, -0.56,-0.53,-0.50,-0.46, null, -0.53,-0.46,-0.36,-0.29,-0.33,-0.40,-0.46,-0.50,-0.56];

// ---------- spectral index (row 4): spread of each scan group + stray points ----------
const si21_x = [7.41,7.52,7.64,7.76, 8.01,8.11,8.22,8.34, 8.90,8.98, 9.25,9.33,9.41,9.50,9.60, 9.95,10.03,10.12,10.20,10.30,10.38, 10.65,10.74,10.83,10.93, 11.23,11.31,11.40, 11.74,11.84, 12.16,12.24,12.33, 13.00,13.12,13.23,13.35,13.49];
const si21_hi = [0.13,0.15,0.13,0.12, 0.22,0.24,0.30,0.34, 0.42,0.44, 0.42,0.46,0.48,0.51,0.50, 0.46,0.38,0.32,0.26,0.17,0.11, 0.17,0.15,0.22,0.24, -0.03,-0.05,-0.07, -0.13,-0.15, -0.13,-0.11,-0.20, -0.11,-0.17,-0.22,-0.20,-0.15];
const si21_lo = [-0.24,-0.22,-0.20,-0.15, -0.15,-0.11,-0.07,-0.05, 0.01,0.09, 0.13,0.11,0.13,0.15,0.17, 0.15,0.05,0.01,-0.07,-0.15,-0.24, -0.17,-0.15,-0.13,-0.07, -0.40,-0.42,-0.40, -0.50,-0.55, -0.52,-0.59,-0.55, -0.48,-0.50,-0.57,-0.57,-0.48];
const si21_ox = [7.74,8.90,9.50,10.12,10.00,10.38,10.38,10.93,11.31,11.31,11.49,11.26,13.00,13.08,13.49,10.05];
const si21_oy = [-0.30,-0.05,0.03,0.61,0.50,-0.30,-0.37,0.26,0.43,0.29,0.14,0.11,0.21,0.04,0.18,-0.15];

const si22_x = [4.40,4.48, 4.82,4.94,5.06,5.18,5.30,5.39, 5.68,5.77,5.89,6.01,6.11, 6.35,6.44,6.55,6.67, 7.03,7.12,7.23, 7.62,7.74,7.86,7.96, 8.13,8.24, 8.49,8.61,8.73,8.85,8.97, 9.23,9.32,9.45,9.56,9.68, 10.05,10.17,10.29,10.42, 10.84,10.96,11.08,11.20,11.32, 11.50,11.62,11.73, 12.15,12.27,12.39,12.51,12.63, 12.87,12.99,13.10,13.22];
const si22_hi = [0.07,0.09, 0.13,0.15,0.22,0.15,0.20,0.17, 0.24,0.30,0.38,0.34,0.26, 0.24,0.28,0.22,0.11, -0.09,-0.07,-0.09, 0.11,0.13,0.15,0.13, 0.17,0.20, 0.15,0.17,0.22,0.24,0.15, 0.44,0.42,0.46,0.44,0.42, 0.22,0.09,0.05,0.01, -0.09,-0.03,0.01,0.05,0.11, 0.22,0.22,0.20, 0.30,0.36,0.34,0.32,0.32, 0.28,0.17,0.15,0.11];
const si22_lo = [-0.36,-0.34, -0.32,-0.30,-0.28,-0.26,-0.26,-0.24, -0.28,-0.22,-0.22,-0.20,-0.17, -0.30,-0.28,-0.30,-0.34, -0.44,-0.46,-0.48, -0.38,-0.30,-0.32,-0.30, -0.36,-0.32, -0.32,-0.30,-0.32,-0.28,-0.28, -0.20,-0.03,0.05,0.03,0.11, -0.28,-0.36,-0.40,-0.48, -0.52,-0.46,-0.44,-0.40,-0.36, -0.28,-0.22,-0.32, -0.17,-0.15,-0.09,-0.05,-0.07, -0.24,-0.28,-0.26,-0.28];
const si22_ox = [4.48,5.08,5.18,4.88,5.08,5.24,4.52,5.89,5.68,6.55,6.67,7.03,8.63,8.85,8.75,8.87,9.59,10.36,10.48,11.08,11.20,12.27,12.93,13.16,13.10,13.28];
const si22_oy = [0.17,0.35,0.32,-0.38,-0.36,-0.38,-0.38,0.41,-0.29,0.32,-0.35,0.25,0.25,0.26,-0.38,-0.45,0.48,-0.57,-0.50,-0.52,-0.40,0.39,0.35,-0.32,-0.45,-0.38];

const si24_x = [3.11,3.23,3.33, 3.95,4.07,4.19,4.31,4.43,4.55,4.64, 4.88,4.98, 5.30,5.42,5.54,5.66, 5.89,6.01,6.13, 6.46,6.58,6.69,6.81,6.93, 7.12,7.24, 7.60,7.72,7.84,7.96,8.08, 8.34,8.46, 8.88,9.00,9.08, 9.24,9.36,9.47,9.59, 9.95,10.04, 10.37,10.47,10.58,10.70,10.82, 11.09,11.23,11.35, 11.62,11.74,11.86,11.95];
const si24_hi = [0.01,-0.03,-0.20, 0.17,0.22,0.22,0.20,0.17,0.22,0.17, 0.20,0.17, 0.22,0.24,0.24,0.22, 0.13,0.15,0.20, 0.20,0.22,0.24,0.24,0.22, 0.24,0.24, 0.26,0.28,0.28,0.28,0.26, 0.28,0.30, 0.42,0.44,0.42, 0.42,0.42,0.40,0.38, 0.26,0.22, 0.05,0.05,0.09,0.11,0.15, 0.11,0.13,0.11, 0.09,0.13,0.13,0.09];
const si24_lo = [-0.20,-0.26,-0.36, -0.20,-0.17,-0.15,-0.13,-0.11,-0.11,-0.13, -0.13,-0.11, -0.07,-0.09,-0.07,-0.09, -0.17,-0.15,-0.13, -0.15,-0.17,-0.13,-0.09,-0.05, -0.07,-0.11, -0.03,-0.01,0.01,-0.03,-0.05, -0.05,-0.03, -0.03,-0.01,0.05, 0.03,0.01,0.01,0.03, -0.13,-0.15, -0.32,-0.28,-0.22,-0.20,-0.17, -0.17,-0.17,-0.20, -0.20,-0.15,-0.09,-0.11];
const si24_ox = [4.19,4.58,6.72,7.84,8.46,8.40,9.30,11.23,10.82,11.78,3.33];
const si24_oy = [0.28,0.27,0.28,0.34,0.40,-0.09,0.44,0.20,-0.24,-0.23,-0.36];

const si25_x = [7.14,7.25,7.37, 7.78,7.90,8.02, 8.43,8.54,8.66, 9.01,9.13,9.24,9.30, 9.65,9.77,9.89,10.01, 10.36,10.47,10.59, 10.94,11.06,11.18, 11.53,11.65,11.76,11.88,11.97, 12.35,12.46, 12.78,12.90,13.02,13.13,13.23];
const si25_hi = [0.07,0.05,0.05, 0.11,0.13,0.20, 0.24,0.26,0.22, 0.30,0.32,0.44,0.38, 0.28,0.24,0.17,0.11, 0.05,0.05,0.01, 0.22,0.15,0.24, 0.26,0.15,0.15,0.22,0.24, 0.26,0.24, 0.22,0.22,0.11,0.26,0.22];
const si25_lo = [-0.11,-0.09,-0.05, -0.11,-0.07,-0.01, 0.05,0.03,0.05, 0.15,0.13,0.20,0.22, 0.07,0.03,-0.03,-0.07, -0.13,-0.11,-0.13, -0.15,-0.09,0.01, -0.24,-0.20,-0.07,0.01,-0.05, -0.07,0.01, -0.17,-0.03,-0.07,0.05,0.09];
const si25_ox = [7.25,7.78,8.54,8.37,9.24,9.26,8.95,9.77,9.89,10.10,10.36,10.50,10.47,11.06,10.94,11.49,11.88,12.03,11.60,11.80,12.35,12.46,12.35,12.42,12.78,12.98,13.25,12.88,13.25,13.16];
const si25_oy = [0.17,-0.15,0.34,-0.05,0.63,0.43,0.34,0.35,-0.08,-0.11,-0.27,-0.24,0.32,0.35,-0.15,-0.46,0.34,-0.35,-0.25,-0.23,0.45,0.51,-0.22,-0.08,-0.34,0.51,0.51,-0.27,-0.21,-0.06];

const bandColors = ['#ff0000', '#008000', '#0000ff', '#000000'];

// ---------- helpers ----------
function pts(xs, ys) {
  // a null in xs breaks the line (gap between scans)
  return xs.map((x, i) => x === null ? {x: xs[i - 1], y: null} : {x: x, y: ys[i]});
}

function trace(xs, ys, color, width, order) {
  return {
    data: pts(xs, ys), borderColor: color, backgroundColor: color,
    borderWidth: width, pointRadius: 0, borderJoinStyle: 'round', borderCapStyle: 'round',
    fill: false, tension: 0, clip: 0, order: order
  };
}

// vertical runs of points: drawn as dotted strokes from lo to hi
function spread(xs, lo, hi, width, dash, cap) {
  const d = [];
  xs.forEach((x, i) => { d.push({x: x, y: lo[i]}, {x: x, y: hi[i]}, {x: x, y: null}); });
  return {
    data: d, borderColor: '#000', borderWidth: width, borderCapStyle: cap || 'butt',
    borderDash: dash || [], pointRadius: 0, fill: false, tension: 0, clip: 0
  };
}

function dots(xs, ys) {
  return {
    data: xs.map((x, i) => ({x: x, y: ys[i]})), showLine: false,
    pointRadius: 2.2, pointBackgroundColor: '#000', pointBorderWidth: 0, borderColor: '#000', clip: 0
  };
}

function fmt(v, digits) {
  return v.toFixed(digits).replace('-', '\u2212');
}

function panelPlugin(r, c) {
  return {
    id: 'panel' + r + c,
    beforeDatasetsDraw(chart) {
      const ctx = chart.ctx, a = chart.chartArea, sx = chart.scales.x, sy = chart.scales.y;
      ctx.save();
      if (c === 2) {
        const x1 = sx.getPixelForValue(gapBand[0]), x2 = sx.getPixelForValue(gapBand[1]);
        ctx.fillStyle = 'rgba(128,128,128,0.5)';
        ctx.fillRect(x1, a.top, x2 - x1, a.bottom - a.top);
        ctx.strokeStyle = 'rgba(110,110,110,0.6)';
        ctx.lineWidth = 1;
        ctx.strokeRect(x1 + 0.5, a.top, x2 - x1 - 1, a.bottom - a.top);
      }
      if (r > 0) {
        const y0 = Math.round(sy.getPixelForValue(0)) + 0.5;
        ctx.strokeStyle = '#6e6e6e';
        ctx.lineWidth = 1.3;
        ctx.setLineDash([5, 3]);
        ctx.beginPath();
        ctx.moveTo(a.left, y0);
        ctx.lineTo(a.right, y0);
        ctx.stroke();
      }
      ctx.restore();
    },
    afterDatasetsDraw(chart) {
      const ctx = chart.ctx, a = chart.chartArea;
      ctx.save();
      ctx.strokeStyle = '#404040';
      ctx.lineWidth = 1;
      ctx.strokeRect(a.left + 0.5, a.top + 0.5, a.right - a.left - 1, a.bottom - a.top - 1);
      ctx.restore();
    }
  };
}

const tickFont = {family: "'Liberation Serif', serif", size: 17};

function makePanel(r, c, datasets) {
  const padL = c === 0 ? 78 : 8;
  const padB = r === 3 ? 32 : 6;
  const padT = 1, padR = 1;
  const cv = document.createElement('canvas');
  const w = padL + panelW + padR, h = padT + panelH + padB;
  cv.width = w; cv.height = h;
  cv.style.left = (colLeft[c] - padL) + 'px';
  cv.style.top = (rowTop[r] - padT) + 'px';
  cv.style.width = w + 'px';
  cv.style.height = h + 'px';
  document.getElementById('fig').appendChild(cv);

  new Chart(cv.getContext('2d'), {
    type: 'line',
    data: {datasets: datasets},
    options: {
      responsive: false,
      animation: false,
      devicePixelRatio: 1,
      events: [],
      layout: {autoPadding: false, padding: {top: padT, right: padR, left: 0, bottom: 0}},
      plugins: {legend: {display: false}, tooltip: {enabled: false}},
      scales: {
        x: {
          type: 'linear', min: xMin[c], max: xMax[c],
          afterBuildTicks: s => { s.ticks = xTicks[c].map(v => ({value: v})); },
          afterFit: s => { s.height = padB; s.paddingLeft = 0; s.paddingRight = 0; s.paddingTop = 0; s.paddingBottom = 0; },
          grid: {drawOnChartArea: false, drawTicks: true, tickLength: 4, tickColor: '#404040', lineWidth: 1},
          border: {display: false},
          ticks: {display: r === 3, font: tickFont, color: '#000', padding: 0, maxRotation: 0, autoSkip: false,
                  callback: v => fmt(v, 1)}
        },
        y: {
          type: 'linear', min: yMin[r], max: yMax[r],
          afterBuildTicks: s => { s.ticks = yTicks[r].map(v => ({value: v})); },
          afterFit: s => { s.width = padL; s.paddingLeft = 0; s.paddingRight = 0; s.paddingTop = 0; s.paddingBottom = 0; },
          grid: {drawOnChartArea: false, drawTicks: true, tickLength: 4, tickColor: '#404040', lineWidth: 1},
          border: {display: false},
          ticks: {display: c === 0, font: tickFont, color: '#000', padding: 4, autoSkip: false,
                  callback: v => fmt(v, yDigits[r])}
        }
      }
    },
    plugins: [panelPlugin(r, c)]
  });
}

// ---------- build the 4 x 4 grid ----------
const piRow = [
  [pi21_x, pi21_b1, pi21_b2, pi21_b3, pi21_b4],
  [pi22_x, pi22_b1, pi22_b2, pi22_b3, pi22_b4],
  [pi24_x, pi24_b1, pi24_b2, pi24_b3, pi24_b4],
  [pi25_x, pi25_b1, pi25_b2, pi25_b3, pi25_b4]
];
const mpRow = [[mp21_x, mp21_y], [mp22_x, mp22_y], [mp24_x, mp24_y], [mp25_x, mp25_y]];
const rmRow = [[rm21_x, rm21_y], [rm22_x, rm22_y], [rm24_x, rm24_y], [rm25_x, rm25_y]];
const siRow = [
  [si21_x, si21_lo, si21_hi, si21_ox, si21_oy],
  [si22_x, si22_lo, si22_hi, si22_ox, si22_oy],
  [si24_x, si24_lo, si24_hi, si24_ox, si24_oy],
  [si25_x, si25_lo, si25_hi, si25_ox, si25_oy]
];

for (let c = 0; c < 4; c++) {
  const p = piRow[c];
  makePanel(0, c, [
    trace(p[0], p[1], bandColors[0], 5.5, 4),
    trace(p[0], p[2], bandColors[1], 5.5, 3),
    trace(p[0], p[3], bandColors[2], 5.5, 2),
    trace(p[0], p[4], bandColors[3], 5.5, 1)
  ]);

  const m = mpRow[c];
  const mSets = [trace(m[0], m[1], '#000', 5.5, 1)];
  if (c === 3) {
    mSets.push(spread(mp25_ox, mp25_olo, mp25_ohi, 1));
    mSets.push(dots(mp25_ox, mp25_oy));
  }
  makePanel(1, c, mSets);

  const q = rmRow[c];
  makePanel(2, c, [trace(q[0], q[1], '#000', 5, 1)]);

  const s = siRow[c];
  makePanel(3, c, [
    c === 3 ? spread(s[0], s[1], s[2], 4, [0.1, 5], 'round') : spread(s[0], s[1], s[2], 4.5, [0.6, 2.4], 'round'),
    dots(s[3], s[4])
  ]);
}
</script>
</body>
</html>
